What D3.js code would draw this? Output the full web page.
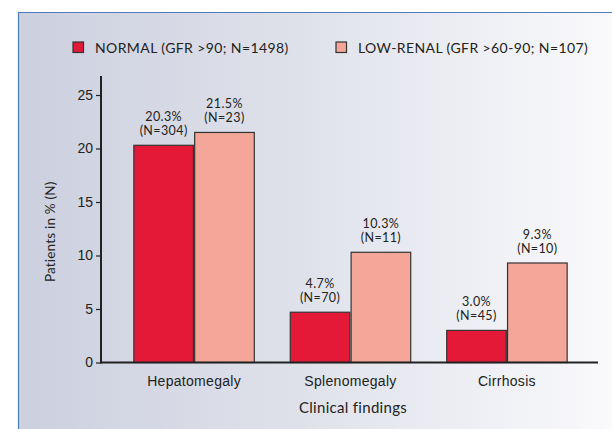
<!DOCTYPE html>
<html>
<head>
<meta charset="utf-8">
<script src="https://cdn.jsdelivr.net/npm/d3@7"></script>
<style>
  body { margin: 0; background: #fff; }
  svg { display: block; font-family: Lato, "Open Sans", sans-serif; }
</style>
</head>
<body>
<svg id="chart" width="612" height="429"></svg>
<script>
const categories = ['Hepatomegaly', 'Splenomegaly', 'Cirrhosis'];
const seriesNames = ['NORMAL (GFR >90; N=1498)', 'LOW-RENAL (GFR >60-90; N=107)'];
const normalPct = [20.3, 4.7, 3.0];
const normalN = [304, 70, 45];
const lowPct = [21.5, 10.3, 9.3];
const lowN = [23, 11, 10];
const yTicks = [0, 5, 10, 15, 20, 25];

const colors = ['#e31937', '#f4a698'];
const width = 612, height = 429;
const svg = d3.select('#chart');

// panel background
const defs = svg.append('defs');
const grad = defs.append('linearGradient').attr('id', 'bg').attr('x1', 0).attr('x2', 1).attr('y1', 0).attr('y2', 0);
grad.append('stop').attr('offset', '0%').attr('stop-color', '#ccd0df');
grad.append('stop').attr('offset', '45%').attr('stop-color', '#dfe1ea');
grad.append('stop').attr('offset', '100%').attr('stop-color', '#fbfbfd');
svg.append('rect').attr('x', 18.5).attr('y', 12.5).attr('width', width).attr('height', height)
  .attr('fill', 'url(#bg)');
svg.append('path').attr('d', `M18.5,${height}V12.5H${width}`)
  .attr('fill', 'none').attr('stroke', '#4f7db8').attr('stroke-width', 1.2);

const x0 = 101, x1 = 598, y0 = 362.5, yTop = 95;
const x = d3.scaleBand().domain(categories).range([x0, x1 + 2]).paddingInner(0.23).paddingOuter(0.21);
const xs = d3.scaleBand().domain([0, 1]).range([0, x.bandwidth()]).paddingInner(0.02);
const y = d3.scaleLinear().domain([0, 25]).range([y0, yTop]);

const data = categories.map((c, i) => ({
  cat: c,
  vals: [
    { s: 0, pct: normalPct[i], n: normalN[i] },
    { s: 1, pct: lowPct[i], n: lowN[i] }
  ]
}));

// bars
const g = svg.append('g').selectAll('g').data(data).join('g')
  .attr('transform', d => `translate(${x(d.cat)},0)`);
g.selectAll('rect').data(d => d.vals).join('rect')
  .attr('x', d => xs(d.s))
  .attr('y', d => y(d.pct))
  .attr('width', xs.bandwidth())
  .attr('height', d => y0 - y(d.pct))
  .attr('fill', d => colors[d.s])
  .attr('stroke', '#333').attr('stroke-width', 1.2);

// value labels, two lines each
const cx = d => xs(d.s) + xs.bandwidth() / 2;
g.selectAll('text.pct').data(d => d.vals).join('text').attr('class', 'pct')
  .attr('x', cx).attr('y', d => y(d.pct) - 24)
  .attr('text-anchor', 'middle').attr('font-size', 12.5).attr('letter-spacing', 0.4).attr('fill', '#222')
  .text(d => d.pct.toFixed(1) + '%');
g.selectAll('text.n').data(d => d.vals).join('text').attr('class', 'n')
  .attr('x', cx).attr('y', d => y(d.pct) - 10)
  .attr('text-anchor', 'middle').attr('font-size', 12.5).attr('letter-spacing', 0.4).attr('fill', '#222')
  .text(d => `(N=${d.n})`);

// y axis
const yAxis = svg.append('g').attr('transform', `translate(${x0},0)`)
  .call(d3.axisLeft(y).tickValues(yTicks).tickSize(5).tickPadding(3));
yAxis.select('.domain').remove();
yAxis.selectAll('.tick line').attr('stroke', '#222').attr('stroke-width', 1.2);
yAxis.selectAll('.tick text').attr('font-size', 14).attr('fill', '#222').attr('font-family', null);
svg.append('line').attr('x1', x0).attr('x2', x0).attr('y1', 76).attr('y2', y0 + 1)
  .attr('stroke', '#222').attr('stroke-width', 2);

// x axis
const xAxis = svg.append('g').attr('transform', `translate(0,${y0})`)
  .call(d3.axisBottom(x).tickSize(0).tickPadding(14));
xAxis.select('.domain').remove();
xAxis.selectAll('.tick text').attr('font-size', 14).attr('letter-spacing', 0.3).attr('fill', '#222').attr('font-family', null);
svg.append('line').attr('x1', x0 - 1).attr('x2', x1).attr('y1', y0).attr('y2', y0)
  .attr('stroke', '#222').attr('stroke-width', 2);

// axis titles
svg.append('text').attr('x', 353).attr('y', 413)
  .attr('text-anchor', 'middle').attr('font-size', 15).attr('letter-spacing', 0.3).attr('fill', '#222')
  .text('Clinical findings');
svg.append('text').attr('transform', `translate(55,${(yTop + y0) / 2 + 3}) rotate(-90)`)
  .attr('text-anchor', 'middle').attr('font-size', 13.5).attr('letter-spacing', 0.2).attr('fill', '#222')
  .text('Patients in % (N)');

// legend
const legX = [73, 336];
const leg = svg.append('g').selectAll('g').data(seriesNames).join('g')
  .attr('transform', (d, i) => `translate(${legX[i]},42)`);
leg.append('rect').attr('width', 10.5).attr('height', 10.5)
  .attr('fill', (d, i) => colors[i]).attr('stroke', '#333').attr('stroke-width', 1.2);
leg.append('text').attr('x', 22).attr('y', 10.5)
  .attr('font-size', 14).attr('letter-spacing', 0.4).attr('fill', '#222').text(d => d);
</script>
</body>
</html>
